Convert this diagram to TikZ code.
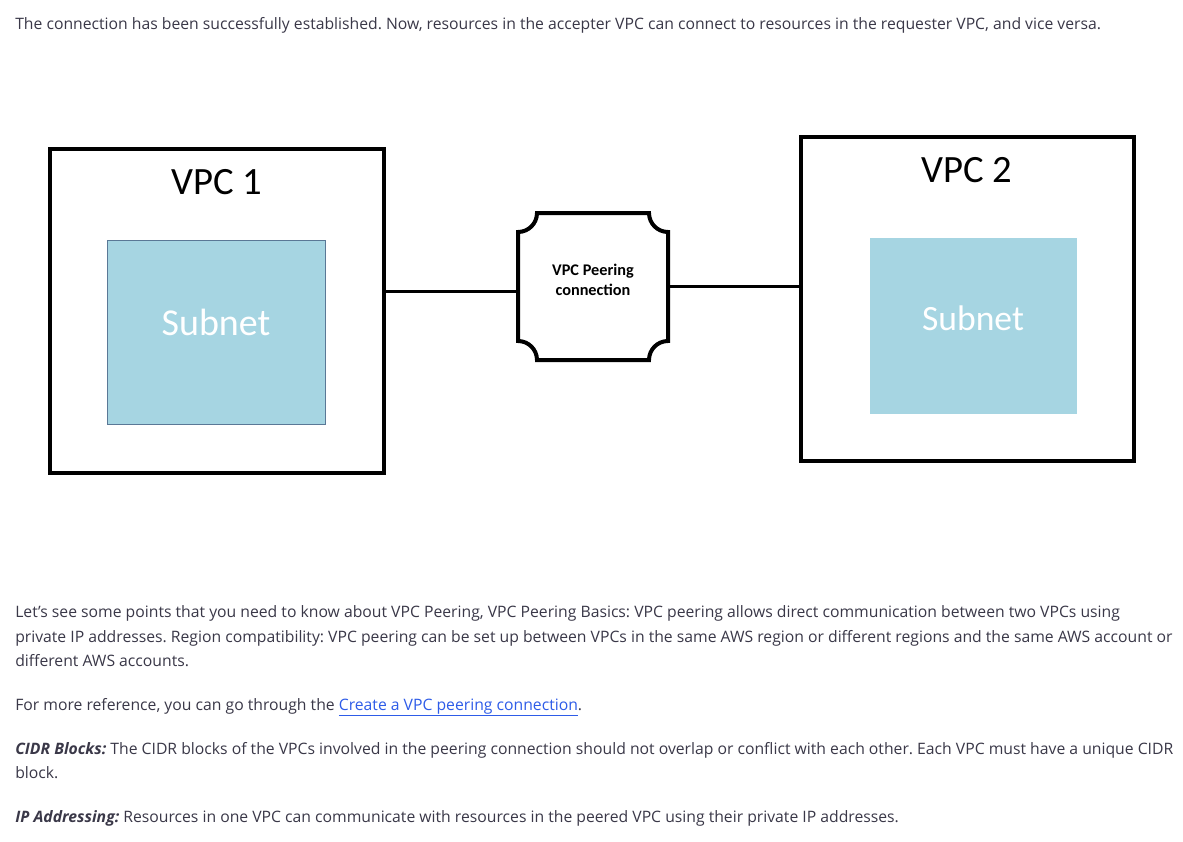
\documentclass[tikz,border=0pt]{standalone}
\usepackage{fontspec}
\setmainfont{Open Sans}
\newfontfamily\diafont{Carlito}
\definecolor{bodytext}{RGB}{58,56,72}
\definecolor{subnetblue}{RGB}{166,213,226}
\definecolor{subnetedge}{RGB}{90,120,150}
\definecolor{linkblue}{RGB}{46,92,232}
\frenchspacing
\begin{document}
\frenchspacing
\begin{tikzpicture}[x=0.75pt,y=-0.75pt,
  body/.style={anchor=base west,inner sep=0pt,text=bodytext,font=\fontsize{11.8pt}{13pt}\selectfont},
  vpcbox/.style={draw=black,line width=3pt,fill=white},
  subnetbox/.style={fill=subnetblue},
  vpctitle/.style={anchor=base,inner sep=0pt,font=\diafont\fontsize{29pt}{31pt}\selectfont},
  subnettext/.style={anchor=base,inner sep=0pt,text=white},
  peerlabel/.style={inner sep=0pt,align=center,font=\diafont\bfseries\fontsize{12.2pt}{15pt}\selectfont}
]
\useasboundingbox (0,0) rectangle (1183,842);
\fill[white] (0,0) rectangle (1183,842);

% top text
\node[body] (t0) at (15,30) {The connection has been successfully established. Now, resources in the accepter VPC can connect to resources in the requester VPC, and vice versa.};

% VPC 1
\draw[vpcbox] (50,149) rectangle (384,473);
\node[minimum width=334*0.75pt,minimum height=324*0.75pt,inner sep=0pt] (vpc1) at (217,311) {};
\draw[subnetbox,draw=subnetedge,line width=0.6pt] (107,240) rectangle (325,424);
\node[vpctitle] (v1t) at (217,195) {VPC 1};
\node[subnettext,font=\diafont\fontsize{28.5pt}{30pt}\selectfont] (s1t) at (216,335) {Subnet};

% VPC 2
\draw[vpcbox] (801,137) rectangle (1134,461);
\node[minimum width=333*0.75pt,minimum height=324*0.75pt,inner sep=0pt] (vpc2) at (967.5,299) {};
\fill[subnetbox] (870,238) rectangle (1077,414);
\node[vpctitle] (v2t) at (967,182) {VPC 2};
\node[subnettext,font=\diafont\fontsize{26.7pt}{28pt}\selectfont] (s2t) at (973,330) {Subnet};

% peering connection
\draw[line width=3pt,fill=white,line join=miter]
  (537,213) -- (649,213) arc[start angle=180,end angle=270,radius=14.25pt]
  -- (668,341) arc[start angle=90,end angle=180,radius=14.25pt]
  -- (537,360) arc[start angle=0,end angle=90,radius=14.25pt]
  -- (518,232) arc[start angle=270,end angle=360,radius=14.25pt] -- cycle;
\node[minimum width=150*0.75pt,minimum height=147*0.75pt,inner sep=0pt] (peer) at (593,286.5) {};
\node[peerlabel] (pl) at (593,280) {VPC Peering\\connection};

% connectors
\draw[line width=1.6pt] ([yshift=-3.7pt]vpc1.east |- peer.west) -- ([yshift=-3.7pt]peer.west);
\draw[line width=2.3pt] (peer.east) -- (vpc2.west |- peer.east);

% bottom text
\node[body] (b1) at (15,617) {Let’s see some points that you need to know about VPC Peering, VPC Peering Basics: VPC peering allows direct communication between two VPCs using};
\node[body] (b2) at (15,642) {private IP addresses. Region compatibility: VPC peering can be set up between VPCs in the same AWS region or different regions and the same AWS account or};
\node[body] (b3) at (15,666) {different AWS accounts.};
\node[body] (b4) at (15,710) {For more reference, you can go through the \textcolor{linkblue}{\underline{Create a VPC peering connection}}.};
\node[body] (b5) at (15,754) {\textbf{\itshape CIDR Blocks:} The CIDR blocks of the VPCs involved in the peering connection should not overlap or conflict with each other. Each VPC must have a unique CIDR};
\node[body] (b6) at (15,778) {block.};
\node[body] (b7) at (15,822) {\textbf{\itshape IP Addressing:} Resources in one VPC can communicate with resources in the peered VPC using their private IP addresses.};
\end{tikzpicture}
\end{document}
